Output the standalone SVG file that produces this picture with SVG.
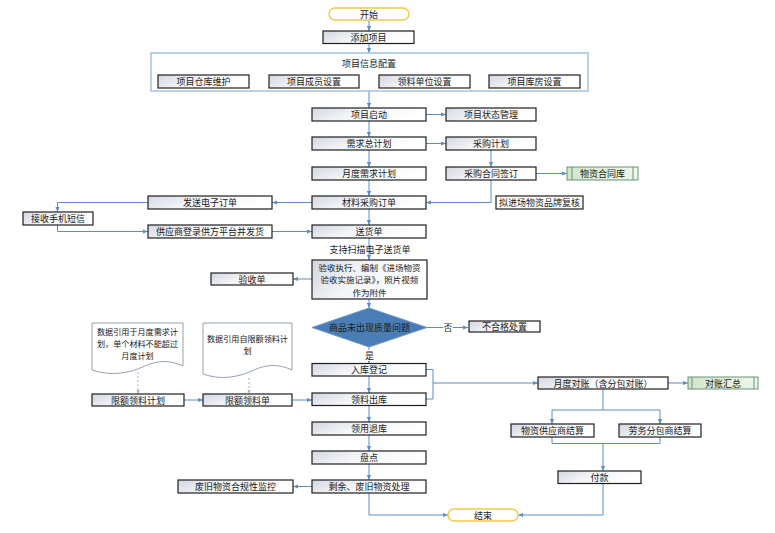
<svg xmlns="http://www.w3.org/2000/svg" width="775" height="533" viewBox="0 0 775 533">
<defs>
<linearGradient id="g" x1="0" y1="0" x2="1" y2="0.3">
<stop offset="0" stop-color="#d3d7e1"/>
<stop offset="0.45" stop-color="#f3f4f7"/>
<stop offset="1" stop-color="#ffffff"/>
</linearGradient>
<linearGradient id="gg" x1="0" y1="0" x2="1" y2="0">
<stop offset="0" stop-color="#cfe6c9"/>
<stop offset="1" stop-color="#eef7eb"/>
</linearGradient>
<marker id="a" viewBox="0 0 6 6" refX="6" refY="3" markerWidth="5" markerHeight="5" orient="auto" markerUnits="userSpaceOnUse">
<path d="M0,0.5 L6,3 L0,5.5 Z" fill="#5b8ec4"/>
</marker>
<marker id="ad" viewBox="0 0 6 6" refX="6" refY="3" markerWidth="4" markerHeight="4" orient="auto" markerUnits="userSpaceOnUse">
<path d="M0,0.5 L6,3 L0,5.5 Z" fill="#a9b3c2"/>
</marker>
</defs>
<style>
.b{fill:url(#g);stroke:#1e1e1e;stroke-width:1.2}
.w{fill:#ffffff;stroke:#1e1e1e;stroke-width:1.2}
.t{fill:#fffffe;stroke:#f0c850;stroke-width:1.4}
.gr{fill:url(#gg);stroke:#6f8f7a;stroke-width:1}
.doc{fill:#ffffff;stroke:#8a96a8;stroke-width:0.9}
text{font-family:"Noto Sans CJK SC","Noto Sans",sans-serif;font-size:9px;fill:#1a1a1a;text-anchor:middle;dominant-baseline:central}
text.s{font-size:8.1px}
text.m{font-size:8.5px}
.c path{fill:none;stroke:#5b8ec4;stroke-width:1}
.c .d{stroke:#a9b3c2;stroke-dasharray:2,2}
</style>
<rect width="775" height="533" fill="#ffffff"/>

<g class="c">
<path d="M369,20 V31" marker-end="url(#a)"/>
<path d="M369,43.5 V53" marker-end="url(#a)"/>
<path d="M369,91 V108" marker-end="url(#a)"/>
<path d="M369,121 V137" marker-end="url(#a)"/>
<path d="M369,150 V167" marker-end="url(#a)"/>
<path d="M369,180 V196" marker-end="url(#a)"/>
<path d="M369,209 V225" marker-end="url(#a)"/>
<path d="M369,238 V260" marker-end="url(#a)"/>
<path d="M369,299 V308" marker-end="url(#a)"/>
<path d="M369,347 V363.5" marker-end="url(#a)"/>
<path d="M369,376 V393" marker-end="url(#a)"/>
<path d="M369,405.5 V422" marker-end="url(#a)"/>
<path d="M369,435 V451" marker-end="url(#a)"/>
<path d="M369,464 V480" marker-end="url(#a)"/>
<path d="M426,114.5 H446" marker-end="url(#a)"/>
<path d="M426,143.5 H446" marker-end="url(#a)"/>
<path d="M491,150 V167" marker-end="url(#a)"/>
<path d="M536,173.5 H567" marker-end="url(#a)"/>
<path d="M491,180 V202.5 H426" marker-end="url(#a)"/>
<path d="M312,202.5 H272" marker-end="url(#a)"/>
<path d="M148,202.5 H57.5 V212" marker-end="url(#a)"/>
<path d="M57.5,225 V231.5 H148" marker-end="url(#a)"/>
<path d="M272,231.5 H312" marker-end="url(#a)"/>
<path d="M312,279 H293" marker-end="url(#a)"/>
<path d="M427,327.5 H468" marker-end="url(#a)"/>
<path d="M426,369.5 H433 V399 H426"/>
<path d="M433,383 H538" marker-end="url(#a)"/>
<path d="M184,400 H203" marker-end="url(#a)"/>
<path d="M292,400 H312" marker-end="url(#a)"/>
<path class="d" d="M138,372 V394" marker-end="url(#ad)"/>
<path class="d" d="M249,378 V394" marker-end="url(#ad)"/>
<path d="M668,383 H688" marker-end="url(#a)"/>
<path d="M603,389 V410 H552 V424" marker-end="url(#a)"/>
<path d="M603,410 H660 V424" marker-end="url(#a)"/>
<path d="M552,437 V443.5 H660 V437"/>
<path d="M603,443.5 V471" marker-end="url(#a)"/>
<path d="M369,493 V515 H448" marker-end="url(#a)"/>
<path d="M603,483.5 V515 H518" marker-end="url(#a)"/>
<path d="M312,486.5 H293" marker-end="url(#a)"/>
</g>

<g id="start"><rect class="t" x="329" y="8" width="80" height="12" rx="6"/><text x="369" y="14">开始</text></g>
<g id="addproj"><rect class="b" x="323" y="31" width="91" height="12.5"/><text x="368.5" y="37.3">添加项目</text></g>
<g id="config">
<rect x="151" y="53" width="437" height="38" fill="#ffffff" stroke="#9dbde3" stroke-width="1.4"/>
<text x="369" y="63">项目信息配置</text>
<rect class="b" x="158" y="75" width="91" height="13"/><text x="203.5" y="81.5">项目仓库维护</text>
<rect class="b" x="269" y="75" width="90" height="13"/><text x="314" y="81.5">项目成员设置</text>
<rect class="b" x="379" y="75" width="91" height="13"/><text x="424.5" y="81.5">领料单位设置</text>
<rect class="b" x="489" y="75" width="91" height="13"/><text x="534.5" y="81.5">项目库房设置</text>
</g>
<g id="launch"><rect class="b" x="312" y="108" width="114" height="13"/><text x="369" y="114.5">项目启动</text></g>
<g id="status"><rect class="b" x="446" y="108" width="90" height="13"/><text x="491" y="114.5">项目状态管理</text></g>
<g id="demand"><rect class="b" x="312" y="137" width="114" height="13"/><text x="369" y="143.5">需求总计划</text></g>
<g id="purchase"><rect class="b" x="446" y="137" width="90" height="13"/><text x="491" y="143.5">采购计划</text></g>
<g id="monthly"><rect class="b" x="312" y="167" width="114" height="13"/><text x="369" y="173.5">月度需求计划</text></g>
<g id="contract"><rect class="b" x="446" y="167" width="90" height="13"/><text x="491" y="173.5">采购合同签订</text></g>
<g id="contractlib"><rect class="gr" x="567" y="167" width="71" height="13"/><path d="M572,167 V180 M633,167 V180" stroke="#6f8f7a" stroke-width="1"/><text x="602.5" y="173.5">物资合同库</text></g>
<g id="order"><rect class="b" x="312" y="196" width="114" height="13"/><text x="369" y="202.5">材料采购订单</text></g>
<g id="sendorder"><rect class="b" x="148" y="196" width="124" height="13"/><text x="210" y="202.5">发送电子订单</text></g>
<g id="brand"><rect class="w" x="496" y="196" width="87" height="13"/><text x="539.5" y="202.5">拟进场物资品牌复核</text></g>
<g id="sms"><rect class="b" x="23" y="212" width="70" height="13"/><text x="58" y="218.5">接收手机短信</text></g>
<g id="supplier"><rect class="b" x="148" y="225" width="124" height="13"/><text x="210" y="231.5">供应商登录供方平台并发货</text></g>
<g id="delivery"><rect class="b" x="312" y="225" width="114" height="13"/><text x="369" y="231.5">送货单</text></g>
<text x="370" y="249">支持扫描电子送货单</text>
<g id="inspect"><rect class="b" x="312" y="260" width="115" height="39"/>
<text class="m" x="369.5" y="266.8">验收执行、编制《进场物资</text>
<text class="m" x="369.5" y="279.4">验收实施记录》，照片视频</text>
<text class="m" x="369.5" y="292">作为附件</text></g>
<g id="receipt"><rect class="b" x="211" y="273" width="82" height="12"/><text x="252" y="279">验收单</text></g>
<g id="quality"><polygon points="369,308 427,327.5 369,347 312,327.5" fill="#4a7db5" stroke="#6d98c8" stroke-width="1"/><text x="369.5" y="327.5">商品未出现质量问题</text></g>
<rect x="443" y="322" width="10" height="11" fill="#ffffff"/><text x="448" y="327.5">否</text>
<g id="reject"><rect class="b" x="469" y="321" width="71" height="11"/><text x="504.5" y="326.5">不合格处置</text></g>
<rect x="364" y="350" width="11" height="11" fill="#ffffff"/><text x="369.5" y="355.5">是</text>
<g id="instock"><rect class="b" x="312" y="363.5" width="114" height="12.5"/><text x="369" y="369.8">入库登记</text></g>
<g id="outstock"><rect class="b" x="312" y="393" width="114" height="12.5"/><text x="369" y="399.3">领料出库</text></g>
<g id="return"><rect class="b" x="312" y="422" width="114" height="13"/><text x="369" y="428.5">领用退库</text></g>
<g id="count"><rect class="b" x="312" y="451" width="114" height="13"/><text x="369" y="457.5">盘点</text></g>
<g id="scrap"><rect class="b" x="312" y="480" width="114" height="13"/><text x="369" y="486.5">剩余、废旧物资处理</text></g>
<g id="monitor"><rect class="b" x="178" y="480" width="115" height="13"/><text x="235.5" y="486.5">废旧物资合规性监控</text></g>
<g id="end"><rect class="t" x="448" y="509" width="70" height="12" rx="6"/><text x="483" y="515">结束</text></g>
<g id="doc1"><path class="doc" d="M92,323 H183 V366 C170,360 158,360 145,366 C128,374 110,376 92,370 Z"/>
<text class="s" x="137.5" y="331">数据引用于月度需求计</text>
<text class="s" x="137.5" y="343">划，单个材料不能超过</text>
<text class="s" x="137.5" y="355">月度计划</text></g>
<g id="doc2"><path class="doc" d="M203,323 H292 V370 C279,364 267,364 254,370 C237,378 220,380 203,374 Z"/>
<text class="s" x="247.5" y="338">数据引用自限额领料计</text>
<text class="s" x="247.5" y="350">划</text></g>
<g id="quotaplan"><rect class="b" x="92" y="394" width="92" height="12"/><text x="138" y="400">限额领料计划</text></g>
<g id="quotaslip"><rect class="b" x="203" y="394" width="89" height="12"/><text x="247.5" y="400">限额领料单</text></g>
<g id="reconcile"><rect class="b" x="538" y="377" width="130" height="12"/><text x="603" y="383">月度对账（含分包对账）</text></g>
<g id="summary"><rect class="gr" x="688" y="377" width="70" height="12"/><path d="M692,377 V389 M754,377 V389" stroke="#6f8f7a" stroke-width="1"/><text x="723" y="383">对账汇总</text></g>
<g id="supsettle"><rect class="b" x="511" y="424" width="83" height="13"/><text x="552.5" y="430.5">物资供应商结算</text></g>
<g id="labsettle"><rect class="b" x="619" y="424" width="82" height="13"/><text x="660" y="430.5">劳务分包商结算</text></g>
<g id="pay"><rect class="b" x="558" y="471" width="83" height="12.5"/><text x="599.5" y="477.3">付款</text></g>
</svg>
